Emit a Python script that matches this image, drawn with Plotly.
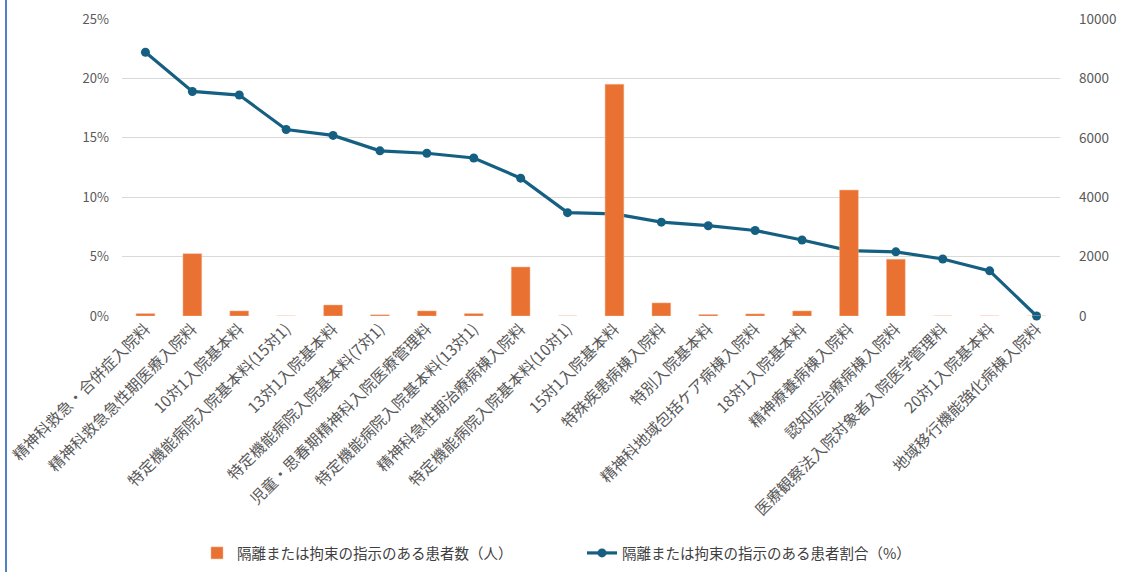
import plotly.graph_objects as go

categories = [
    "精神科救急・合併症入院料",
    "精神科救急急性期医療入院料",
    "10対1入院基本料",
    "特定機能病院入院基本料(15対1)",
    "13対1入院基本料",
    "特定機能病院入院基本料(7対1)",
    "児童・思春期精神科入院医療管理料",
    "特定機能病院入院基本料(13対1)",
    "精神科急性期治療病棟入院料",
    "特定機能病院入院基本料(10対1)",
    "15対1入院基本料",
    "特殊疾患病棟入院料",
    "特別入院基本料",
    "精神科地域包括ケア病棟入院料",
    "18対1入院基本料",
    "精神療養病棟入院料",
    "認知症治療病棟入院料",
    "医療観察法入院対象者入院医学管理料",
    "20対1入院基本料",
    "地域移行機能強化病棟入院料",
]
patients = [80, 2100, 170, 0, 370, 40, 170, 80, 1650, 0,
            7800, 440, 50, 70, 170, 4240, 1910, 0, 0, 0]
ratio = [0.222, 0.189, 0.186, 0.157, 0.152, 0.139, 0.137, 0.133, 0.116, 0.087,
         0.086, 0.079, 0.076, 0.072, 0.064, 0.055, 0.054, 0.048, 0.038, 0.0]

bar_name = "隔離または拘束の指示のある患者数（人）"
line_name = "隔離または拘束の指示のある患者割合（%）"

FONT = "Noto Sans CJK JP, Noto Sans, sans-serif"
ORANGE = "#E97132"
TEAL = "#156082"

fig = go.Figure()
fig.add_trace(go.Bar(
    x=categories, y=patients, name=bar_name, yaxis="y2",
    marker=dict(color=ORANGE, line=dict(color="#f4b894", width=0.5)),
))
fig.add_trace(go.Scatter(
    x=categories, y=ratio, name=line_name, yaxis="y",
    mode="lines+markers",
    line=dict(color=TEAL, width=3.2),
    marker=dict(color=TEAL, size=9),
    cliponaxis=False,
))

W, H = 1126, 572
ml, mr, mt, mb = 122, 66, 19, 256
pw = W - ml - mr
ph = H - mt - mb

fig.update_layout(
    width=W, height=H,
    margin=dict(l=ml, r=mr, t=mt, b=mb, autoexpand=False),
    paper_bgcolor="white", plot_bgcolor="white",
    font=dict(family=FONT, color="#595959", size=13),
    bargap=0.6,
    showlegend=True,
    legend=dict(
        orientation="h", x=(197 - ml) / pw, xanchor="left",
        y=-(553 - (H - mb)) / ph, yanchor="middle",
        font=dict(size=14.5, color="#404040"),
        traceorder="normal", itemwidth=30,
        entrywidth=340, entrywidthmode="pixels",
    ),
    xaxis=dict(
        range=[-0.5, len(categories) - 0.5],
        tickangle=-45, showgrid=False, zeroline=False, showline=False,
        tickfont=dict(size=15.5, color="#595959"), ticks="", automargin=False,
    ),
    yaxis=dict(
        range=[0, 0.25], dtick=0.05, tickformat=".0%",
        showgrid=True, gridcolor="#d9d9d9", gridwidth=1.3, zeroline=False,
        tickfont=dict(size=13, color="#595959"), ticklabelstandoff=12,
        automargin=False,
    ),
    yaxis2=dict(
        range=[0, 10000], dtick=2000, overlaying="y", side="right",
        tickformat="d",
        showgrid=False, zeroline=False, automargin=False,
        tickfont=dict(size=13.5, color="#595959"), ticklabelstandoff=18,
    ),
    shapes=[dict(
        type="line", xref="paper", yref="paper",
        x0=(6 - ml) / pw, x1=(6 - ml) / pw,
        y0=-(mb + 10) / ph, y1=1 + (mt + 10) / ph,
        line=dict(color="#4f81c7", width=2),
    )],
)

fig.write_html("out.html")
